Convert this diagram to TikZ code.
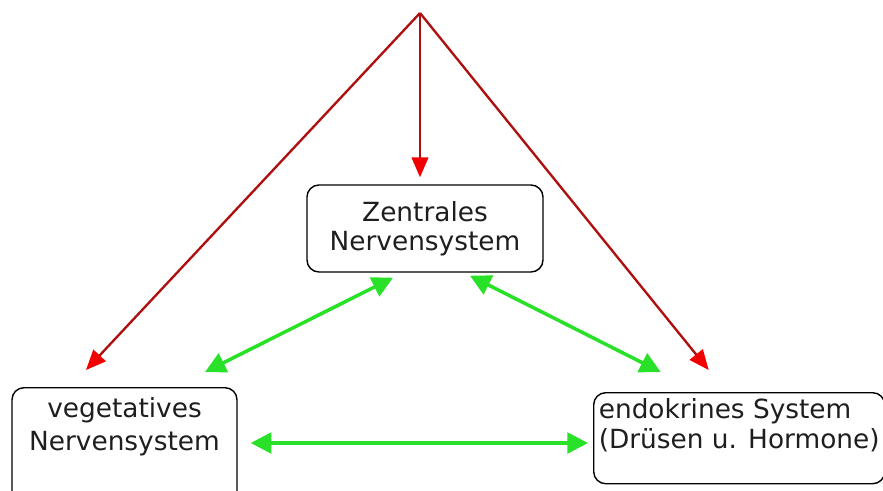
\documentclass[tikz,border=0pt]{standalone}
\usepackage{fontspec}
\setmainfont{DejaVu Sans}
\usetikzlibrary{arrows.meta,calc}
\definecolor{pfeilrot}{RGB}{175,15,15}
\definecolor{spitzerot}{RGB}{240,0,0}
\definecolor{pfeilgruen}{RGB}{40,225,40}
\definecolor{schrift}{RGB}{30,30,30}
\tikzset{
  kasten/.style={draw=black, line width=1.2pt, rounded corners=0.36cm, text=schrift,
    font=\fontsize{22.5}{25}\selectfont},
  rotpfeil/.style={draw=pfeilrot, line width=2pt,
    -{Triangle[length=0.6cm,width=0.5cm,color=spitzerot]}},
  gruenpfeil/.style={draw=pfeilgruen, line width=3pt,
    {Triangle[length=0.62cm,width=0.62cm]}-{Triangle[length=0.62cm,width=0.62cm]}},
}
\begin{document}
\begin{tikzpicture}[x=0.03cm,y=-0.03cm]
        \clip (0,0) rectangle (883,490);
        % Kaesten
            \node[kasten, minimum width=7.08cm, minimum height=2.61cm, align=center]
                (zns) at (425,228.5) {Zentrales\\Nervensystem};
            \node[kasten, anchor=north, minimum width=6.75cm, align=center, inner ysep=0.3cm]
                (veg) at (124.5,387) {vegetatives\\[3pt]Nervensystem\\~\\~};
            \node[kasten, anchor=north west, minimum width=8.73cm, minimum height=2.73cm, align=left]
                (endo) at (593,392) {endokrines System\\(Drüsen u. Hormone)\\~};
        % Spitze oben
            \coordinate (spitze) at (420,13);
        % rote Pfeile
            \draw[rotpfeil] (spitze) -- ($(zns.north)+(-5,-7)$); % |
            \draw[rotpfeil] (spitze) -- ($(veg.north)+(-38.5,-17)$); % /
            \draw[rotpfeil] (spitze) -- ($(endo.north)+(-30.5,-22)$); % \
        % gruene Pfeile
            \draw[gruenpfeil] ($(zns.south)+(-32,5)$) -- ($(veg.north)+(80.5,-15)$);
            \draw[gruenpfeil] ($(zns.south)+(45,3)$) -- ($(endo.north)+(-78.5,-20)$);
            \draw[gruenpfeil] ($(veg.north east)+(13,56)$) -- ($(endo.north west)+(-5,51)$);
\end{tikzpicture}
\end{document}
